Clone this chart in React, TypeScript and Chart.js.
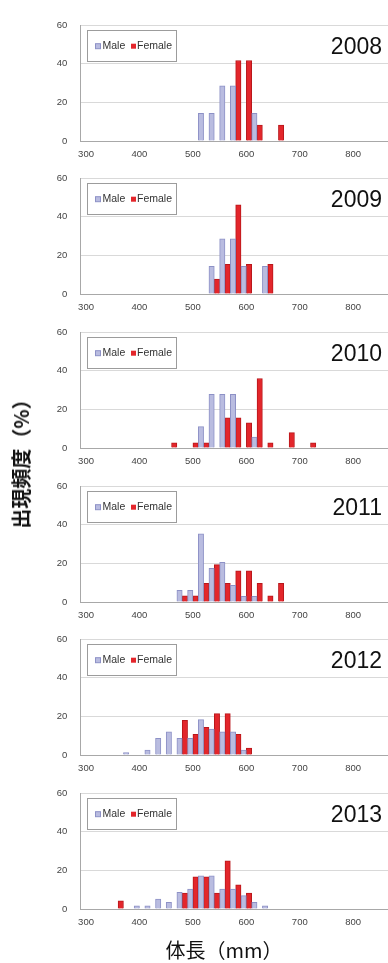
import React, { useEffect, useRef } from "react";
import { Chart, registerables } from "chart.js";

Chart.register(...registerables);

const categories = [
  "300", "320", "340", "360", "380", "400", "420", "440", "460", "480",
  "500", "520", "540", "560", "580", "600", "620", "640", "660", "680",
  "700", "720", "740", "760", "780", "800", "820", "840", "860", "880",
];
const tickLabels = ["300", "400", "500", "600", "700", "800"];
const yTicks = [0, 20, 40, 60];
const years = ["2008", "2009", "2010", "2011", "2012", "2013"];
const seriesNames = ["Male", "Female"];

//                  300 320 340 360 380 400 420 440 460 480 500  520  540  560  580  600  620  640  660 680 700 720 740...
const male2008 = [0, 0, 0, 0, 0, 0, 0, 0, 0, 0, 0, 14.3, 14.3, 28.6, 28.6, 0, 14.3, 0, 0, 0, 0, 0, 0, 0, 0, 0, 0, 0, 0, 0];
const female2008 = [0, 0, 0, 0, 0, 0, 0, 0, 0, 0, 0, 0, 0, 0, 41.7, 41.7, 8.3, 0, 8.3, 0, 0, 0, 0, 0, 0, 0, 0, 0, 0, 0];
const male2009 = [0, 0, 0, 0, 0, 0, 0, 0, 0, 0, 0, 0, 14.3, 28.6, 28.6, 14.3, 0, 14.3, 0, 0, 0, 0, 0, 0, 0, 0, 0, 0, 0, 0];
const female2009 = [0, 0, 0, 0, 0, 0, 0, 0, 0, 0, 0, 0, 7.7, 15.4, 46.2, 15.4, 0, 15.4, 0, 0, 0, 0, 0, 0, 0, 0, 0, 0, 0, 0];
const male2010 = [0, 0, 0, 0, 0, 0, 0, 0, 0, 0, 0, 11.1, 27.8, 27.8, 27.8, 0, 5.6, 0, 0, 0, 0, 0, 0, 0, 0, 0, 0, 0, 0, 0];
const female2010 = [0, 0, 0, 0, 0, 0, 0, 0, 2.7, 0, 2.7, 2.7, 0, 15.6, 15.6, 13, 36, 2.7, 0, 8, 0, 2.7, 0, 0, 0, 0, 0, 0, 0, 0];
const male2011 = [0, 0, 0, 0, 0, 0, 0, 0, 0, 6, 6, 35.3, 17.4, 20.5, 8.6, 3, 3, 0, 0, 0, 0, 0, 0, 0, 0, 0, 0, 0, 0, 0];
const female2011 = [0, 0, 0, 0, 0, 0, 0, 0, 0, 3.2, 3.2, 9.7, 19.4, 9.7, 16.1, 16.1, 9.7, 3.2, 9.7, 0, 0, 0, 0, 0, 0, 0, 0, 0, 0, 0];
const male2012 = [0, 0, 0, 0, 1.3, 0, 2.5, 8.7, 12, 8.7, 8.7, 18.3, 13.4, 12, 12, 2.5, 0, 0, 0, 0, 0, 0, 0, 0, 0, 0, 0, 0, 0, 0];
const female2012 = [0, 0, 0, 0, 0, 0, 0, 0, 0, 17.9, 10.7, 14.3, 21.4, 21.4, 10.7, 3.6, 0, 0, 0, 0, 0, 0, 0, 0, 0, 0, 0, 0, 0, 0];
const male2013 = [0, 0, 0, 0, 0, 1.7, 1.7, 5.2, 3.4, 8.6, 10.3, 17.2, 17.2, 10.3, 10.3, 6.9, 3.4, 1.7, 0, 0, 0, 0, 0, 0, 0, 0, 0, 0, 0, 0];
const female2013 = [0, 0, 0, 4.2, 0, 0, 0, 0, 0, 8.3, 16.7, 16.7, 8.3, 25, 12.5, 8.3, 0, 0, 0, 0, 0, 0, 0, 0, 0, 0, 0, 0, 0, 0];

const maleSeries = [male2008, male2009, male2010, male2011, male2012, male2013];
const femaleSeries = [female2008, female2009, female2010, female2011, female2012, female2013];

const MALE_FILL = "#b9bce0";
const MALE_BORDER = "#8d91c6";
const FEMALE_FILL = "#e3262b";
const FEMALE_BORDER = "#b8171b";

const CANVAS_W = 404;
const PAD_TOP = 8;
const PLOT_H = 127;
const XAXIS_H = 26;
const CANVAS_H = PAD_TOP + PLOT_H + XAXIS_H;
const PANEL_TOP0 = 13.5;
const PANEL_STEP = 153.7;

const overlayPlugin = {
  id: "panelOverlay",
  afterDraw(chart: any) {
    const opts = chart.options.plugins.panelOverlay || {};
    const { left, top } = chart.chartArea;
    const ctx = chart.ctx;
    ctx.save();
    // legend box
    const bx = Math.round(left + 6) + 0.5;
    const by = Math.round(top + 5) + 0.5;
    ctx.fillStyle = "#ffffff";
    ctx.strokeStyle = "#9c9c9c";
    ctx.lineWidth = 1;
    ctx.fillRect(bx, by, 89, 31);
    ctx.strokeRect(bx, by, 89, 31);
    const cy = top + 21;
    ctx.font = "10.5px 'Liberation Sans', Arial, sans-serif";
    ctx.textBaseline = "middle";
    ctx.textAlign = "left";
    // male
    ctx.fillStyle = MALE_FILL;
    ctx.fillRect(95.5, cy - 2.5, 5, 5);
    ctx.strokeStyle = MALE_BORDER;
    ctx.strokeRect(95.5, cy - 2.5, 5, 5);
    ctx.fillStyle = "#333333";
    ctx.fillText(seriesNames[0], 102.5, cy);
    // female
    ctx.fillStyle = FEMALE_FILL;
    ctx.fillRect(131, cy - 2.5, 5, 5);
    ctx.fillStyle = "#333333";
    ctx.fillText(seriesNames[1], 137, cy);
    // year
    ctx.font = "23px 'Liberation Sans', Arial, sans-serif";
    ctx.textAlign = "right";
    ctx.fillStyle = "#111111";
    ctx.fillText(opts.year || "", 382, cy + 1);
    ctx.restore();
  },
};

function Panel({ index }: { index: number }) {
  const ref = useRef<HTMLCanvasElement | null>(null);
  useEffect(() => {
    if (!ref.current) return;
    const male = maleSeries[index].map((v) => (v === 0 ? null : v));
    const female = femaleSeries[index].map((v) => (v === 0 ? null : v));
    const chart = new Chart(ref.current, {
      type: "bar",
      data: {
        labels: categories,
        datasets: [
          {
            label: seriesNames[0],
            data: male,
            backgroundColor: MALE_FILL,
            borderColor: MALE_BORDER,
            borderWidth: 1,
            categoryPercentage: 1,
            barPercentage: 1,
          },
          {
            label: seriesNames[1],
            data: female,
            backgroundColor: FEMALE_FILL,
            borderColor: FEMALE_BORDER,
            borderWidth: 1,
            categoryPercentage: 1,
            barPercentage: 1,
          },
        ],
      },
      options: {
        responsive: false,
        animation: false,
        events: [],
        layout: { padding: { top: PAD_TOP, left: 0, right: 1, bottom: 0 } },
        plugins: {
          legend: { display: false },
          tooltip: { enabled: false },
          title: { display: false },
          // @ts-ignore
          panelOverlay: { year: years[index] },
        },
        scales: {
          x: {
            type: "category",
            offset: true,
            grid: { display: false, drawTicks: false },
            border: { display: true, color: "#a8a8a8", width: 1 },
            ticks: {
              autoSkip: false,
              maxRotation: 0,
              minRotation: 0,
              padding: 8,
              color: "#444444",
              font: { size: 9.5, family: "'Liberation Sans', Arial, sans-serif" },
              callback: (_v: any, i: number) => (tickLabels.includes(categories[i]) ? categories[i] : ""),
            },
            afterFit: (s: any) => {
              s.height = XAXIS_H;
            },
          },
          y: {
            min: 0,
            max: 60,
            afterBuildTicks: (s: any) => {
              s.ticks = yTicks.map((v) => ({ value: v }));
            },
            grid: { color: "#d9d9d9", lineWidth: 1, drawTicks: false },
            border: { display: true, color: "#a8a8a8", width: 1 },
            ticks: {
              padding: 13.5,
              color: "#444444",
              font: { size: 9.5, family: "'Liberation Sans', Arial, sans-serif" },
            },
            afterFit: (s: any) => {
              s.width = 80.7;
            },
          },
        },
      },
      plugins: [overlayPlugin],
    } as any);
    return () => chart.destroy();
  }, [index]);
  const top = PANEL_TOP0 + index * PANEL_STEP - PAD_TOP;
  return (
    <canvas
      ref={ref}
      width={CANVAS_W}
      height={CANVAS_H}
      style={{ position: "absolute", left: 0, top, width: CANVAS_W, height: CANVAS_H }}
    />
  );
}

export default function App() {
  return (
    <div
      style={{
        position: "absolute",
        left: 0,
        top: 0,
        width: 388,
        height: 963,
        overflow: "hidden",
        background: "#ffffff",
      }}
    >
      {years.map((y, i) => (
        <Panel key={y} index={i} />
      ))}
      <div
        style={{
          position: "absolute",
          left: 21,
          top: 459,
          transform: "translate(-50%, -50%) rotate(-90deg)",
          whiteSpace: "nowrap",
          fontFamily: "'Noto Sans CJK JP', sans-serif",
          fontSize: 20,
          fontWeight: 700,
          color: "#111111",
          lineHeight: 1,
        }}
      >
        出現頻度（%）
      </div>
      <div
        style={{
          position: "absolute",
          left: 224,
          top: 950,
          transform: "translate(-50%, -50%)",
          whiteSpace: "nowrap",
          fontFamily: "'Noto Sans CJK JP', sans-serif",
          fontSize: 20,
          fontWeight: 400,
          color: "#111111",
          lineHeight: 1,
        }}
      >
        体長（mm）
      </div>
    </div>
  );
}
